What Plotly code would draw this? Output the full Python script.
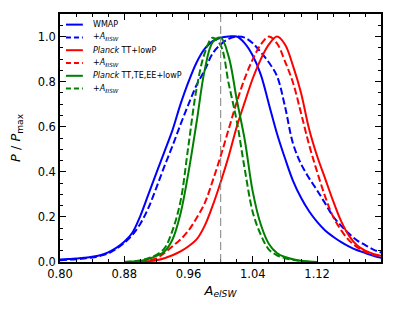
import plotly.graph_objects as go

# ---- data ----
x_wide = [0.80, 0.81, 0.82, 0.83, 0.84, 0.85, 0.86, 0.87, 0.88, 0.89, 0.90, 0.91, 0.92, 0.93, 0.94,
          0.95, 0.96, 0.97, 0.98, 0.99, 1.00, 1.01, 1.02, 1.03, 1.04, 1.05, 1.06, 1.07, 1.08, 1.09,
          1.10, 1.11, 1.12, 1.13, 1.14, 1.15, 1.16, 1.17, 1.18, 1.19, 1.20]
wmap_p = [0.011, 0.013, 0.016, 0.019, 0.023, 0.030, 0.043, 0.063, 0.090, 0.130, 0.205, 0.300, 0.395, 0.490, 0.585,
          0.700, 0.800, 0.885, 0.945, 0.980, 0.995, 1.000, 1.000, 0.970, 0.915, 0.830, 0.700, 0.570, 0.460, 0.360,
          0.285, 0.225, 0.178, 0.140, 0.112, 0.088, 0.068, 0.052, 0.040, 0.028, 0.018]
wmap_isw_p = [0.008, 0.010, 0.012, 0.016, 0.020, 0.027, 0.038, 0.058, 0.085, 0.120, 0.170, 0.240, 0.330, 0.425, 0.515,
              0.610, 0.700, 0.785, 0.850, 0.925, 0.965, 0.990, 1.000, 0.995, 0.970, 0.930, 0.885, 0.825, 0.690, 0.525,
              0.435, 0.372, 0.318, 0.260, 0.202, 0.160, 0.125, 0.095, 0.075, 0.055, 0.042]

x_red = [0.90, 0.91, 0.92, 0.93, 0.94, 0.95, 0.96, 0.97, 0.98, 0.99, 1.00, 1.01, 1.02, 1.03, 1.04, 1.05,
         1.06, 1.07, 1.08, 1.09, 1.10, 1.11, 1.12, 1.13, 1.14, 1.15, 1.16, 1.17, 1.18, 1.19, 1.20]
ptt_p = [0.000, 0.003, 0.008, 0.017, 0.030, 0.047, 0.070, 0.100, 0.160, 0.250, 0.355, 0.470, 0.600, 0.710, 0.815, 0.900,
         0.965, 1.000, 0.965, 0.870, 0.750, 0.590, 0.470, 0.370, 0.270, 0.180, 0.115, 0.073, 0.050, 0.036, 0.027]
ptt_isw_p = [0.002, 0.007, 0.016, 0.040, 0.070, 0.100, 0.140, 0.195, 0.260, 0.360, 0.470, 0.590, 0.710, 0.815, 0.900, 0.965,
             1.000, 0.970, 0.890, 0.795, 0.660, 0.520, 0.400, 0.290, 0.200, 0.140, 0.095, 0.065, 0.045, 0.032, 0.024]

x_green = [0.88, 0.89, 0.90, 0.91, 0.92, 0.93, 0.94, 0.95, 0.96, 0.97, 0.98, 0.99, 1.00, 1.01, 1.02, 1.03,
           1.04, 1.05, 1.06, 1.07, 1.08, 1.09, 1.10, 1.11, 1.12]
pall_p = [0.000, 0.002, 0.005, 0.013, 0.027, 0.047, 0.100, 0.215, 0.400, 0.620, 0.850, 0.975, 0.995, 0.910, 0.720, 0.540,
          0.310, 0.165, 0.080, 0.040, 0.022, 0.012, 0.006, 0.002, 0.000]
pall_isw_p = [0.000, 0.003, 0.007, 0.017, 0.032, 0.060, 0.140, 0.270, 0.520, 0.770, 0.925, 0.995, 0.960, 0.790, 0.625, 0.410,
              0.220, 0.120, 0.055, 0.030, 0.017, 0.010, 0.004, 0.001, 0.000]

isw = "+<i>A</i><sub>ℓ<i>ISW</i></sub>"
names = ["WMAP", isw, "<i>Planck</i> TT+lowP", isw, "<i>Planck</i> TT,TE,EE+lowP", isw]
xs_all = [x_wide, x_wide, x_red, x_red, x_green, x_green]
ps_all = [wmap_p, wmap_isw_p, ptt_p, ptt_isw_p, pall_p, pall_isw_p]
colors = ["#0000ff", "#0000ff", "#ff0000", "#ff0000", "#008000", "#008000"]
dashes = ["solid", "7px,3px", "solid", "7px,3px", "solid", "7px,3px"]

fig = go.Figure()
for name, xs, ps, col, dash in zip(names, xs_all, ps_all, colors, dashes):
    fig.add_trace(go.Scatter(
        x=xs, y=ps, mode="lines", name=name, showlegend=False,
        line=dict(color=col, width=2, dash=dash, shape="spline", smoothing=1.0),
    ))

fig.add_shape(type="line", xref="x", yref="paper", x0=1.0, x1=1.0, y0=0, y1=1,
              line=dict(color="#808080", width=1, dash="8px,4px"))

# manual compact legend (top-left, inside the axes)
PL, PT, PW, PH = 60, 12, 323, 250
for i, (name, col, dash) in enumerate(zip(names, colors, dashes)):
    py = 22.7 + 12.9 * i
    yp = (PT + PH - py) / PH
    fig.add_shape(type="line", xref="paper", yref="paper",
                  x0=(66 - PL) / PW, x1=(83 - PL) / PW, y0=yp, y1=yp,
                  line=dict(color=col, width=2, dash=dash if dash == "solid" else "5px,3px"))
    fig.add_annotation(xref="paper", yref="paper", x=(91 - PL) / PW, y=yp,
                       xanchor="left", yanchor="middle", showarrow=False, text=name,
                       font=dict(family="DejaVu Sans", size=8, color="black"))

axis_common = dict(
    showline=True, linecolor="black", linewidth=1.5, mirror="ticks",
    ticks="inside", ticklen=6, tickwidth=1, tickcolor="black",
    showgrid=False, zeroline=False,
    tickfont=dict(family="DejaVu Sans", size=11.5, color="black"),
)

fig.update_xaxes(range=[0.8, 1.1995], tick0=0.8, dtick=0.08, tickformat=".2f",
                 minor=dict(ticks="inside", dtick=0.02, ticklen=3, tickcolor="black"),
                 title=dict(text="<i>A</i><sub><i>elSW</i></sub>",
                            font=dict(family="DejaVu Sans", size=13, color="black"), standoff=6),
                 **axis_common)
fig.update_yaxes(range=[0, 1.1], tick0=0, dtick=0.2, tickformat=".1f",
                 minor=dict(ticks="inside", dtick=0.05, ticklen=3, tickcolor="black"),
                 title=dict(text="<i>P</i> / <i>P</i><sub>max</sub>",
                            font=dict(family="DejaVu Sans", size=13, color="black"), standoff=14),
                 **axis_common)

fig.update_layout(
    width=395, height=310,
    margin=dict(l=60, r=12, t=12, b=48),
    plot_bgcolor="white", paper_bgcolor="white",
    showlegend=False,
)

fig.write_html("out.html", config={"displayModeBar": False},
               post_script="document.body.style.margin='0';")
